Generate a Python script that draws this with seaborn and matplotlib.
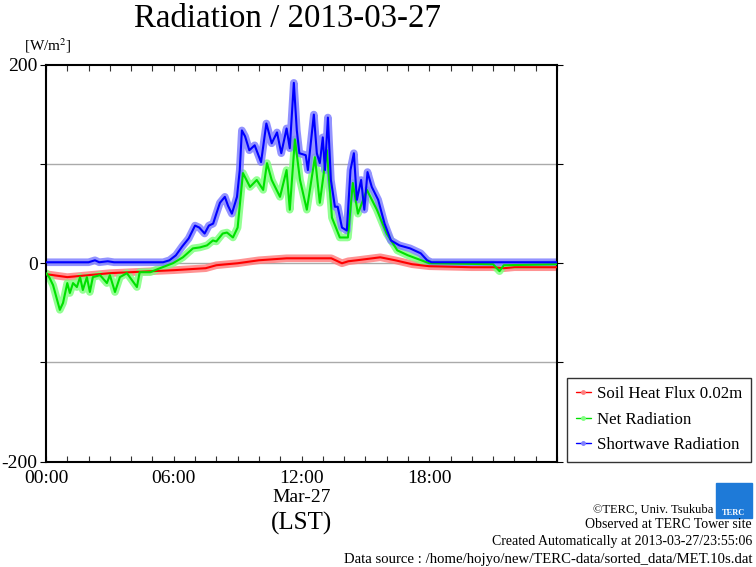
import pandas as pd
import matplotlib
matplotlib.use("Agg")
import matplotlib.pyplot as plt
from matplotlib.patches import Rectangle
from matplotlib.ticker import MultipleLocator, FixedLocator
import seaborn as sns

# values (hour of day -> W/m2)
sw_hours = [0, 2.0, 2.3, 2.5, 2.9, 3.2, 5.5, 5.8, 6.1, 6.4, 6.7, 7.0, 7.2, 7.45, 7.65, 7.85,
            8.0, 8.17, 8.4, 8.55, 8.73, 8.9, 8.97, 9.1, 9.2, 9.35, 9.55, 9.8, 10.1, 10.35,
            10.6, 10.85, 11.05, 11.3, 11.45, 11.64, 11.78, 11.9, 12.2, 12.3, 12.4, 12.58,
            12.72, 12.86, 13.0, 13.1, 13.24, 13.38, 13.57, 13.7, 13.9, 14.13, 14.3, 14.46,
            14.6, 14.8, 14.95, 15.1, 15.3, 15.6, 15.9, 16.2, 16.6, 17.1, 17.6, 17.9, 18.1, 24]
sw_vals = [1, 1, 3, 1, 2, 1, 1, 3, 8, 17, 25, 38, 36, 30, 38, 40,
           50, 61, 67, 58, 50, 62, 67, 94, 134, 128, 114, 119, 102, 141,
           121, 132, 111, 136, 116, 182, 134, 111, 109, 94, 114, 150,
           111, 101, 127, 94, 147, 84, 57, 57, 36, 33, 94, 111,
           64, 84, 54, 92, 77, 64, 40, 23, 18, 15, 10, 3, 1, 1]

net_hours = [0, 0.15, 0.33, 0.65, 0.8, 1.0, 1.12, 1.27, 1.45, 1.6, 1.73, 1.92, 2.06, 2.2,
             2.54, 2.86, 3.0, 3.24, 3.47, 3.8, 4.27, 4.4, 4.9, 5.35, 5.96, 6.43, 6.9, 7.23,
             7.56, 7.84, 8.0, 8.3, 8.5, 8.78, 9.0, 9.25, 9.58, 9.9, 10.2, 10.38, 10.6, 10.99,
             11.3, 11.45, 11.69, 11.93, 12.25, 12.63, 12.86, 13.19, 13.43, 13.8, 14.18, 14.41,
             14.65, 15.07, 15.54, 16.0, 16.5, 17.0, 17.5, 18.0, 21.0, 21.3, 21.5, 24]
net_vals = [-10, -14, -22, -47, -40, -20, -30, -20, -24, -14, -27, -14, -29, -14,
            -12, -20, -12, -29, -14, -10, -24, -9, -9, -5, 0, 6, 15, 16,
            18, 23, 22, 30, 31, 26, 36, 91, 77, 84, 74, 101, 84, 67,
            94, 54, 125, 84, 54, 107, 61, 114, 46, 26, 26, 81,
            50, 74, 54, 30, 13, 8, 4, 0, -1, -8, -2, -1]

soil_hours = [0, 1.0, 2.0, 3.0, 6.0, 7.5, 8.0, 9.0, 10.0, 11.3, 12.3, 13.4, 13.9, 14.2,
              14.6, 15.7, 16.4, 17.2, 18.0, 20.0, 21.0, 21.5, 22.0, 24]
soil_vals = [-11, -14, -12, -10, -7, -5, -2, 0, 3, 5, 5, 5, 0, 2,
             3, 6, 3, -1, -3, -4, -4, -5, -4, -4]

series = [
    ("Soil Heat Flux 0.02m", soil_hours, soil_vals, "#ff0000", "#ff8080"),
    ("Net Radiation", net_hours, net_vals, "#00e000", "#80ff80"),
    ("Shortwave Radiation", sw_hours, sw_vals, "#0000ff", "#8080ff"),
]

sns.set_style("ticks")
plt.rcParams["font.family"] = ["Liberation Serif", "DejaVu Serif"]
plt.rcParams["mathtext.fontset"] = "stix"
plt.rcParams["text.color"] = "black"
plt.rcParams["xtick.color"] = "black"
plt.rcParams["ytick.color"] = "black"

fig = plt.figure(figsize=(7.56, 5.67), dpi=100)
ax = fig.add_axes([46 / 756, 1 - 461.5 / 567, 511 / 756, 396.5 / 567])

for y in (-100, 0, 100):
    ax.axhline(y, color="#aaaaaa", lw=1, zorder=0)

handles = []
for name, hrs, vals, dark, light in series:
    df = pd.DataFrame({"hour": hrs, "value": vals})
    sns.lineplot(data=df, x="hour", y="value", ax=ax, color=light, lw=5.5, alpha=0.85,
                 solid_capstyle="round", zorder=2)
    sns.lineplot(data=df, x="hour", y="value", ax=ax, color=dark, lw=1.5, zorder=3)
    h, = ax.plot([], [], color=dark, lw=1, marker="o", ms=2.5, mfc=light, mec=light)
    handles.append((h, name))

ax.set_xlim(0, 24)
ax.set_ylim(-200, 200)
ax.set_xlabel("")
ax.set_ylabel("")

ax.xaxis.set_major_locator(FixedLocator([0, 6, 12, 18]))
ax.xaxis.set_minor_locator(MultipleLocator(1))
ax.set_xticklabels(["00:00", "06:00", "12:00", "18:00"], fontsize=14)
ax.tick_params(axis="x", which="both", direction="in", top=True, bottom=True,
               length=4, width=0.8, color="#333333", pad=6)
ax.yaxis.set_major_locator(FixedLocator([-200, -100, 0, 100, 200]))
ax.set_yticklabels(["-200", "", "0", "", "200"], fontsize=14)
ax.tick_params(axis="y", which="both", direction="out", left=True, right=True,
               length=4, width=0.8, pad=2)
for s in ax.spines.values():
    s.set_linewidth(1.5)
    s.set_color("black")

leg = ax.legend([h for h, _ in handles], [n for _, n in handles],
                loc="lower left", bbox_to_anchor=(1.02, 0), borderaxespad=0,
                fontsize=12.2, frameon=True, fancybox=False, edgecolor="black",
                handlelength=0.9, handletextpad=0.35, labelspacing=0.55,
                borderpad=0.5)
leg.get_frame().set_linewidth(1.0)

fig.text(288 / 756, 1 - 27 / 567, "Radiation / 2013-03-27", ha="center", va="baseline",
         fontsize=23.7)
fig.text(48 / 756, 1 - 46 / 567, "[W/m$^2$]", ha="center", va="center", fontsize=11)
fig.text(302 / 756, 1 - 497 / 567, "Mar-27", ha="center", va="center", fontsize=14)
fig.text(302 / 756, 1 - 523 / 567, "(LST)", ha="center", va="center", fontsize=18)

fig.text(713 / 756, 1 - 510 / 567, "©TERC, Univ. Tsukuba", ha="right", va="center", fontsize=9)
fig.text(752 / 756, 1 - 525 / 567, "Observed at TERC Tower site", ha="right", va="center",
         fontsize=10)
fig.text(752 / 756, 1 - 542 / 567, "Created Automatically at 2013-03-27/23:55:06",
         ha="right", va="center", fontsize=10)
fig.text(752 / 756, 1 - 560 / 567,
         "Data source : /home/hojyo/new/TERC-data/sorted_data/MET.10s.dat",
         ha="right", va="center", fontsize=10.6)

fig.patches.append(Rectangle((716 / 756, 1 - 518 / 567), 36 / 756, 35 / 567,
                             transform=fig.transFigure, color="#1e7ad8"))
fig.text(734 / 756, 1 - 513 / 567, "TERC", ha="center", va="center", fontsize=6,
         color="white", weight="bold")

fig.savefig("out.png", dpi=100)
